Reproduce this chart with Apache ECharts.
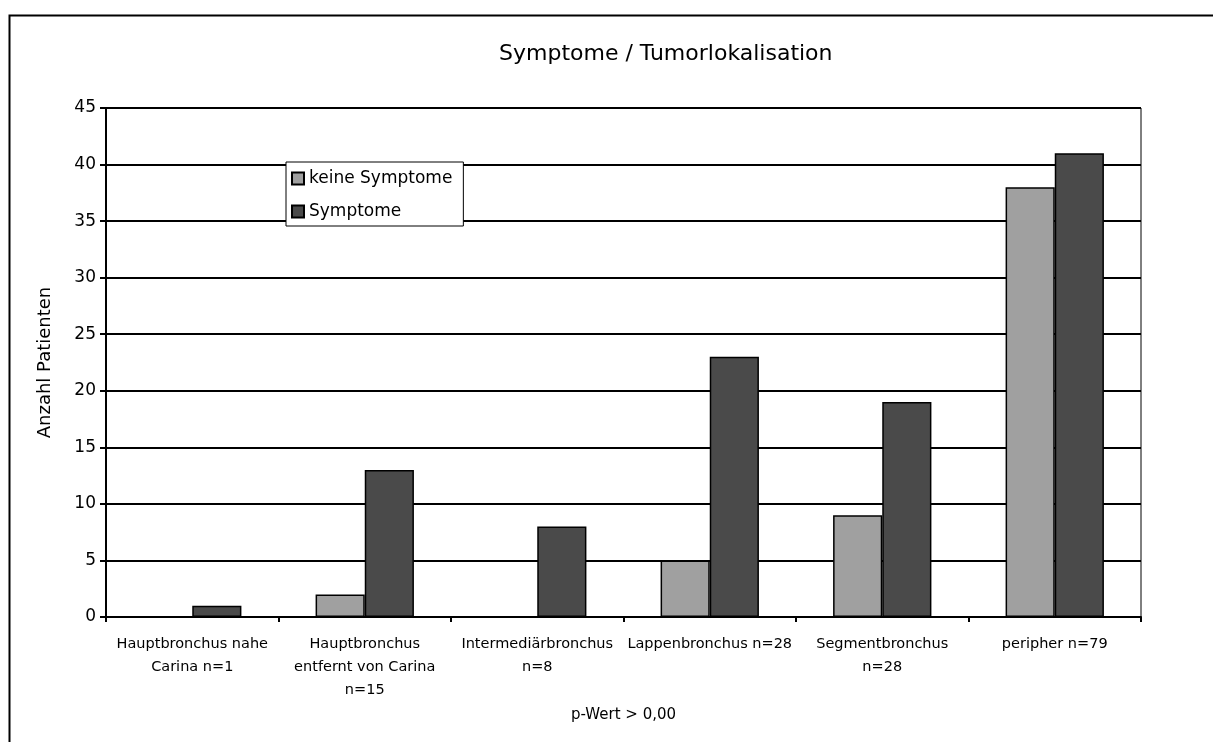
<!DOCTYPE html>
<html>
<head>
<meta charset="utf-8">
<script src="https://cdn.jsdelivr.net/npm/echarts@6/dist/echarts.min.js"></script>
<style>
html,body{margin:0;padding:0;background:#fff;}
#chart{width:1213px;height:742px;}
</style>
</head>
<body>
<div id="chart"></div>
<script>
var categories = [
  "Hauptbronchus nahe\nCarina n=1",
  "Hauptbronchus\nentfernt von Carina\nn=15",
  "Intermediärbronchus\nn=8",
  "Lappenbronchus n=28",
  "Segmentbronchus\nn=28",
  "peripher n=79"
];
var keineSymptome = [0, 2, 0, 5, 9, 38];
var symptome = [1, 13, 8, 23, 19, 41];
var yTicks = [0, 5, 10, 15, 20, 25, 30, 35, 40, 45];

var FONT = "DejaVu Sans";
var chart = echarts.init(document.getElementById('chart'), null, {renderer: 'canvas'});
chart.setOption({
  animation: false,
  backgroundColor: '#ffffff',
  textStyle: {fontFamily: FONT, color: '#000'},
  title: {
    text: 'Symptome / Tumorlokalisation',
    left: 494, top: 38,
    textStyle: {fontFamily: FONT, fontSize: 22, fontWeight: 'normal', color: '#000'}
  },
  graphic: [{
    type: 'rect', left: 7, top: 13, silent: true,
    shape: {width: 1230, height: 760},
    style: {fill: 'none', stroke: '#000', lineWidth: 2},
    z: 0
  }],
  legend: {
    orient: 'vertical',
    left: 286, top: 162,
    padding: [8, 11, 6, 5],
    itemGap: 16,
    itemWidth: 12, itemHeight: 12,
    backgroundColor: '#fff',
    borderColor: '#000', borderWidth: 1,
    icon: 'rect',
    textStyle: {fontFamily: FONT, fontSize: 17, color: '#000', padding: [0, 0, 0, 0]},
    data: ['keine Symptome', 'Symptome']
  },
  grid: {left: 106, right: 72, top: 108, bottom: 125, containLabel: false,
         show: true, borderColor: '#000', borderWidth: 1},
  xAxis: {
    type: 'category',
    data: categories,
    name: 'p-Wert > 0,00',
    nameLocation: 'middle',
    nameGap: 91,
    nameTextStyle: {fontFamily: FONT, fontSize: 15, color: '#000'},
    axisLine: {show: true, lineStyle: {color: '#000', width: 2}},
    axisTick: {show: true, length: 5, alignWithLabel: false, lineStyle: {color: '#000', width: 2}},
    axisLabel: {fontFamily: FONT, fontSize: 14.5, color: '#000', lineHeight: 23, margin: 16, interval: 0},
    splitLine: {show: false}
  },
  yAxis: {
    type: 'value',
    min: 0, max: 45, interval: 5,
    name: 'Anzahl Patienten',
    nameLocation: 'middle',
    nameGap: 52,
    nameTextStyle: {fontFamily: FONT, fontSize: 18, color: '#000'},
    axisLine: {show: true, lineStyle: {color: '#000', width: 2}},
    axisTick: {show: true, length: 6, lineStyle: {color: '#000', width: 2}},
    axisLabel: {fontFamily: FONT, fontSize: 17, color: '#000', margin: 10,
      formatter: function (v) { return yTicks.indexOf(v) >= 0 ? String(v) : ''; }},
    splitLine: {show: true, lineStyle: {color: '#000', width: 2}}
  },
  series: [
    {
      name: 'keine Symptome', type: 'bar', data: keineSymptome,
      barGap: '0%', barCategoryGap: '43%',
      itemStyle: {color: '#a0a0a0', borderColor: '#000', borderWidth: 1.5}
    },
    {
      name: 'Symptome', type: 'bar', data: symptome,
      barGap: '0%', barCategoryGap: '43%',
      itemStyle: {color: '#4a4a4a', borderColor: '#000', borderWidth: 1.5}
    }
  ]
});
</script>
</body>
</html>
